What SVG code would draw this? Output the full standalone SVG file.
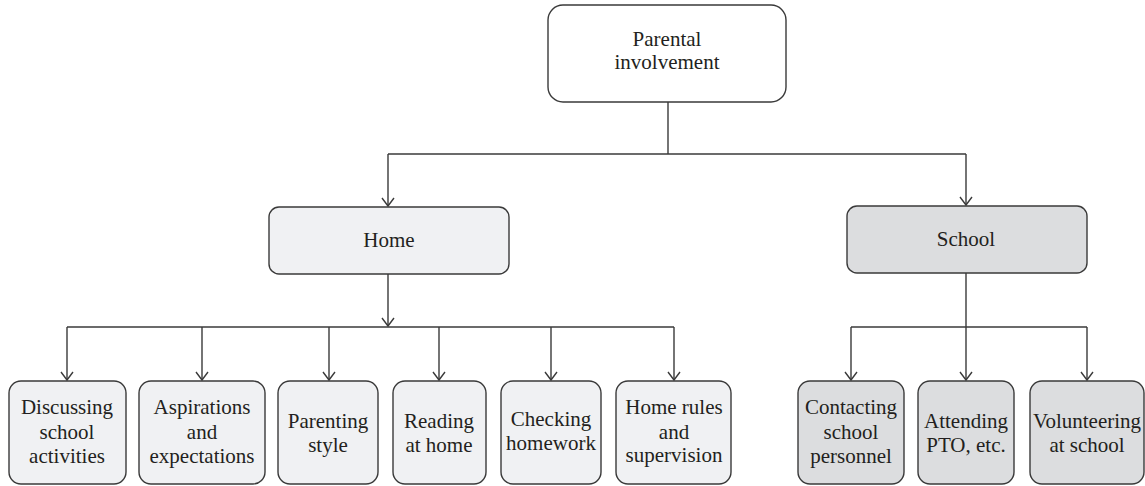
<svg xmlns="http://www.w3.org/2000/svg" width="1145" height="486" viewBox="0 0 1145 486">
<style>
.box{stroke:#3a3a3a;stroke-width:1.4}
.top{fill:#ffffff}
.home{fill:#f0f1f3}
.school{fill:#dcdddf}
.t{font-family:"Liberation Serif","Times New Roman",serif;font-size:21px;fill:#231f20;text-anchor:middle}
.c{fill:none;stroke:#3a3a3a;stroke-width:1.4}
</style>
<defs>
<marker id="ah" viewBox="-10 -8 12 16" markerWidth="12" markerHeight="16" refX="0" refY="0" orient="auto" markerUnits="userSpaceOnUse">
<path d="M-8,-6 L0,0 L-8,6" fill="none" stroke="#3a3a3a" stroke-width="1.4"/>
</marker>
</defs>
<rect width="1145" height="486" fill="#ffffff"/>
<g id="connectors" class="c">
<path d="M668,102 V154"/>
<path d="M388,154 H966"/>
<path d="M388,154 V206" marker-end="url(#ah)"/>
<path d="M966,154 V205" marker-end="url(#ah)"/>
<path d="M388,274 V326" marker-end="url(#ah)"/>
<path d="M67,327 H674"/>
<path d="M67,327 V380" marker-end="url(#ah)"/>
<path d="M202,327 V380" marker-end="url(#ah)"/>
<path d="M329,327 V380" marker-end="url(#ah)"/>
<path d="M439,327 V380" marker-end="url(#ah)"/>
<path d="M551,327 V380" marker-end="url(#ah)"/>
<path d="M674,327 V380" marker-end="url(#ah)"/>
<path d="M966,273 V327"/>
<path d="M851,327 H1087"/>
<path d="M851,327 V380" marker-end="url(#ah)"/>
<path d="M966,327 V380" marker-end="url(#ah)"/>
<path d="M1087,327 V380" marker-end="url(#ah)"/>
</g>
<g id="parental">
<rect class="box top" x="548" y="5" width="238" height="97" rx="15"/>
<text class="t" x="667" y="46">Parental</text>
<text class="t" x="667" y="69">involvement</text>
</g>
<g id="home">
<rect class="box home" x="269" y="207" width="240" height="67" rx="10"/>
<text class="t" x="389" y="247">Home</text>
</g>
<g id="school">
<rect class="box school" x="847" y="206" width="240" height="67" rx="10"/>
<text class="t" x="966" y="246">School</text>
</g>
<g id="discussing">
<rect class="box home" x="9" y="381" width="117" height="103" rx="12"/>
<text class="t" x="67" y="414">Discussing</text>
<text class="t" x="67" y="439">school</text>
<text class="t" x="67" y="463">activities</text>
</g>
<g id="aspirations">
<rect class="box home" x="139" y="381" width="126" height="103" rx="12"/>
<text class="t" x="202" y="414">Aspirations</text>
<text class="t" x="202" y="439">and</text>
<text class="t" x="202" y="463">expectations</text>
</g>
<g id="parenting">
<rect class="box home" x="278" y="381" width="100" height="103" rx="12"/>
<text class="t" x="328" y="428">Parenting</text>
<text class="t" x="328" y="452">style</text>
</g>
<g id="reading">
<rect class="box home" x="393" y="381" width="93" height="103" rx="12"/>
<text class="t" x="439" y="428">Reading</text>
<text class="t" x="439" y="452">at home</text>
</g>
<g id="checking">
<rect class="box home" x="501" y="381" width="100" height="103" rx="12"/>
<text class="t" x="551" y="426">Checking</text>
<text class="t" x="551" y="450">homework</text>
</g>
<g id="homerules">
<rect class="box home" x="616" y="381" width="115" height="103" rx="12"/>
<text class="t" x="674" y="414">Home rules</text>
<text class="t" x="674" y="439">and</text>
<text class="t" x="674" y="462">supervision</text>
</g>
<g id="contacting">
<rect class="box school" x="798" y="381" width="106" height="103" rx="12"/>
<text class="t" x="851" y="414">Contacting</text>
<text class="t" x="851" y="439">school</text>
<text class="t" x="851" y="463">personnel</text>
</g>
<g id="attending">
<rect class="box school" x="918" y="381" width="96" height="103" rx="12"/>
<text class="t" x="966" y="428">Attending</text>
<text class="t" x="966" y="452">PTO, etc.</text>
</g>
<g id="volunteering">
<rect class="box school" x="1030" y="381" width="114" height="103" rx="12"/>
<text class="t" x="1087" y="428">Volunteering</text>
<text class="t" x="1087" y="452">at school</text>
</g>
</svg>
